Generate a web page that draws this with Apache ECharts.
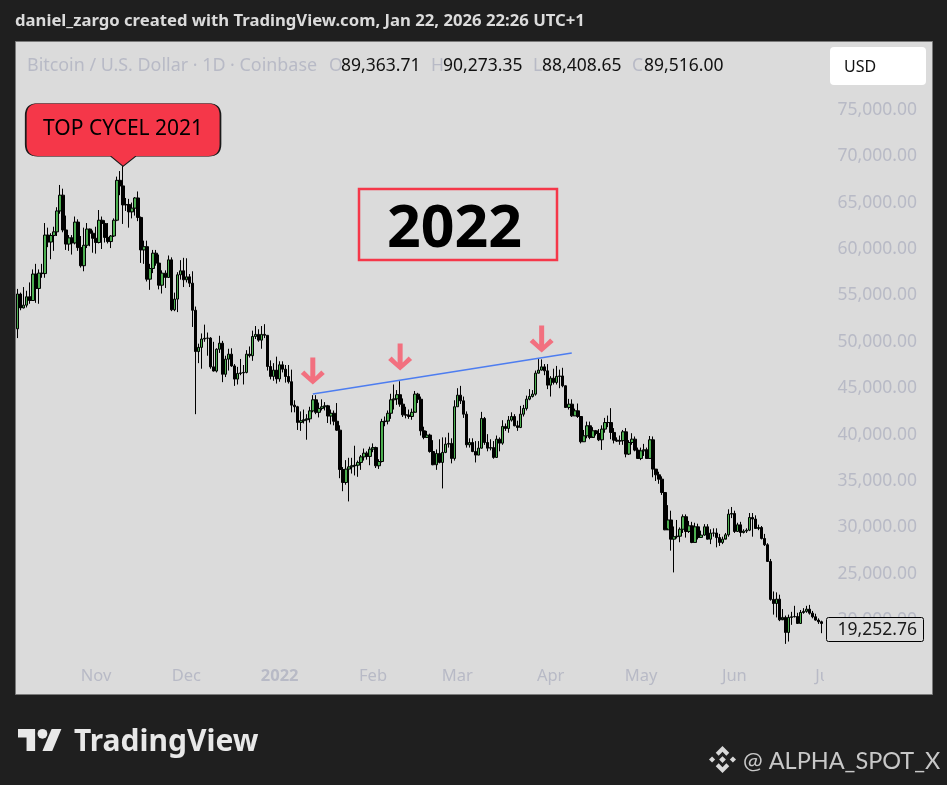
<!DOCTYPE html>
<html>
<head>
<meta charset="utf-8">
<style>html,body{margin:0;padding:0;background:#1f1f1f}#c{width:947px;height:785px}</style>
<script src="https://cdn.jsdelivr.net/npm/echarts@6/dist/echarts.min.js"></script>
</head>
<body>
<div id="c"></div>
<script>
const startDate = Date.UTC(2021, 9, 5);
const bandCount = 270;
const tickIndices = [27, 57, 88, 119, 147, 178, 208, 239, 269];
const tickLabels = ['Nov', 'Dec', '2022', 'Feb', 'Mar', 'Apr', 'May', 'Jun', 'Jul'];

const opens = [
49250,51400,55150,53650,53950,54850,54450,57300,55750,57400,
57350,61500,60750,61450,61850,64100,65800,62050,60530,61200,
60650,62900,60150,58200,60400,62150,61700,61150,60700,63100,
62750,61250,60800,61400,63100,67400,66800,64750,64800,64000,
64400,65500,63400,59900,60250,56750,57900,59550,58480,56100,
57400,56930,58830,53450,54600,57220,57650,56680,57000,56320,
53400,48950,49400,50300,50380,50400,47300,46850,49200,49850,
46500,48130,48670,47400,45980,46590,46650,46700,48670,48500,
50570,50800,50180,50800,50700,47340,46270,46950,46000,47520,
47050,46260,45700,43175,43000,41310,41500,41600,41700,42560,
43750,42400,42820,43000,43100,42000,42300,41440,40480,36240,
34840,36280,36530,36650,36700,37000,37600,38000,37650,38430,
38600,36640,37100,41400,41450,42300,43750,43850,44300,43280,
42130,42100,41950,42400,44360,43810,40410,39700,39950,38180,
36750,37970,37000,38080,38970,39050,37430,43000,44250,43640,
42200,38900,39150,38180,37790,38540,41740,39150,38540,38600,
37540,39510,39080,40880,40660,41560,41950,40950,40770,42200,
42820,43820,44110,44360,46620,46950,47300,46870,45330,46080,
45620,46270,46320,45260,42920,43280,42020,42560,41950,39230,
39870,40950,39690,40410,40120,39440,40590,41300,41300,40230,
39400,39300,39350,40300,37900,39150,39510,38330,37430,38250,
38360,37430,39440,36280,35670,35200,33760,29740,30800,28730,
29000,29050,29800,31150,29560,30170,28380,30060,28920,29170,
30065,28730,29380,29400,28900,28380,28730,29200,31430,31500,
29560,30280,29450,29600,29700,31070,30900,29880,29990,28810,
28130,26330,22240,21800,22270,20040,20300,18680,20300,20370,
20400,19650,20830,20950,21190,20760,20370,20010,19830
];
const closes = [
51400,55150,53650,53950,54850,54450,57300,55750,57400,57350,
61500,60750,61450,61850,64100,65800,62050,60530,61200,60650,
62900,60150,58200,60400,62150,61700,61150,60700,63100,62750,
61250,60800,61400,63100,67400,66800,64750,64800,64000,64400,
65500,63400,59900,60250,56750,57900,59550,58480,56100,57400,
56930,58830,53450,54600,57220,57650,56680,57000,56320,53400,
48950,49400,50300,50380,50400,47300,46850,49200,49850,46500,
48130,48670,47400,45980,46590,46650,46700,48670,48500,50570,
50800,50180,50800,50700,47340,46270,46950,46000,47520,47050,
46260,45700,43175,43000,41310,41500,41600,41700,42560,43750,
42400,42820,43000,43100,42000,42300,41440,40480,36240,34840,
36280,36530,36650,36700,37000,37600,38000,37650,38430,38600,
36640,37100,41400,41450,42300,43750,43850,44300,43280,42130,
42100,41950,42400,44360,43810,40410,39700,39950,38180,36750,
37970,37000,38080,38970,39050,37430,43000,44250,43640,42200,
38900,39150,38180,37790,38540,41740,39150,38540,38600,37540,
39510,39080,40880,40660,41560,41950,40950,40770,42200,42820,
43820,44110,44360,46620,46950,47300,46870,45330,46080,45620,
46270,46320,45260,42920,43280,42020,42560,41950,39230,39870,
40950,39690,40410,40120,39440,40590,41300,41300,40230,39400,
39300,39350,40300,37900,39150,39510,38330,37430,38250,38360,
37430,39440,36280,35670,35200,33760,29740,30800,28730,29000,
29050,29800,31150,29560,30170,28380,30060,28920,29170,30065,
28730,29380,29400,28900,28380,28730,29200,31430,31500,29560,
30280,29450,29600,29700,31070,30900,29880,29990,28810,28130,
26330,22240,21800,22270,20040,20300,18680,20300,20370,20400,
19650,20830,20950,21190,20760,20370,20010,19830,19650
];
const highs = [
51900,55700,55300,55900,55500,56400,57800,58400,57800,58400,
62800,62300,61700,62400,64500,66900,66500,63600,61500,61500,
63500,63200,61400,62300,62800,62200,62000,62400,64200,63500,
63100,62800,61500,63300,67800,68400,69000,65500,65400,65000,
65600,66200,63500,60900,60900,58400,59900,59900,59400,57700,
57700,59300,59100,55300,57500,58800,59050,59000,57300,57600,
53800,49800,50900,51850,51000,50500,50000,49300,50650,50100,
48500,49250,49300,47600,47300,48150,47500,49100,49500,51200,
51700,51350,51700,51900,50700,48000,47700,48400,47900,47900,
47500,47500,47000,43700,43100,42500,42700,42200,43000,44250,
44250,43450,43800,43500,43200,42700,42600,43400,41000,36500,
37250,37500,37500,38800,37200,37800,38500,38200,38700,39050,
38700,37350,41700,41950,42600,44400,45400,44800,45750,43900,
43000,42700,42800,44700,44500,44100,40850,40400,40100,39400,
38400,39500,39700,39700,40200,39600,43700,45000,45250,44100,
42500,39600,39600,39300,39300,42450,41900,40050,39500,39300,
39900,39700,41550,41200,42000,42400,42200,41500,43100,43200,
44200,44900,44800,46900,48130,48100,47600,47600,46300,47100,
47400,47000,47200,45300,43850,43800,42800,43350,42000,40500,
41400,41400,40800,40500,40600,41000,41800,42050,42850,40700,
39700,39900,40500,40700,39400,40150,39800,38600,38600,39000,
38600,39850,39800,36300,36000,35500,33800,32400,31800,30100,
30800,30000,31400,31400,30700,30600,30500,30400,29650,30350,
30350,29800,29900,29900,29300,29000,29400,31950,32200,31800,
30500,30600,29800,29900,31550,31550,31300,30300,30150,29300,
28300,26600,23100,23000,22750,21200,20500,20600,20900,21550,
20800,21100,21300,21550,21650,21000,20700,20200,19950
];
const lows = [
49050,50400,53400,53600,53700,54100,54500,54200,54100,56900,
56900,60200,58900,59800,61400,63800,61800,59900,59800,59400,
60500,59800,58000,57600,60100,60300,59600,59500,60600,60000,
60700,60600,60100,61300,63000,65800,62700,64100,62300,63300,
63600,63000,58500,58400,56500,55600,57400,58200,55650,55200,
55800,56900,53300,53300,53200,56700,55900,56400,55900,51600,
42200,47700,47100,50000,48500,47100,46800,46700,48800,45650,
46200,46900,47300,45250,45400,46400,45400,46600,48300,47950,
50300,50000,49250,50400,46900,45950,45800,45500,45700,46700,
45600,45500,42400,42400,40500,40400,41200,39450,41300,42400,
42200,41850,42600,42600,41250,41100,41000,40400,35300,33900,
34600,32800,35800,35600,35450,36200,37200,37300,36700,38100,
36400,36300,37000,40900,41100,41700,42700,43200,43000,41900,
41750,41700,41600,42500,43400,39900,39500,39650,38050,36700,
36200,36900,34200,38000,38600,36900,37200,43000,43300,41800,
38600,38600,38100,37000,37800,38500,38900,38200,38300,37400,
37500,38200,38900,40400,40200,41400,40900,40400,40700,41950,
42600,43700,44000,44200,46600,46900,46400,44900,44100,45400,
45400,45000,45100,42900,42700,41900,42000,41800,39050,39200,
39600,39500,39800,39900,39300,38350,40200,40800,39500,39050,
39200,38900,38900,37550,37800,38900,38200,37400,37250,37700,
37400,37400,35400,35000,34700,33500,29700,29900,27500,25150,
28800,28400,29400,28900,29400,28300,28400,28700,28900,29100,
28700,28200,29000,27850,28000,28200,28800,29000,31000,29400,
29500,29000,29350,29400,29600,29000,29850,29700,28700,28000,
26300,22100,20600,20300,19900,20200,17450,17700,19500,20300,
19600,19600,20700,20800,20600,20200,19950,19600,18600
];
const lastPriceLabel = '19,252.76';
const topCallout = { index: 36, price: 68900, text: 'TOP CYCEL 2021' };
const arrowIndices = [99, 128, 175];
const arrowPrices = [46860, 48370, 50300];
const trendIndices = [99, 185];
const trendPrices = [44370, 48790];

const categories = Array.from({ length: bandCount }, (_, i) =>
  new Date(startDate + i * 86400000).toISOString().slice(0, 10));
const ohlc = closes.map((c, i) => [opens[i], c, lows[i], highs[i]]);

const FONT = '"Noto Sans", sans-serif';
const MUTED = '#b8bac6';
const PANEL = '#dbdbdb';
const PAGE = '#1f1f1f';

const arrowPath = 'path://M9.5 0H14.5V19L20.5 13L24 16.5L12 27L0 16.5L3.5 13L9.5 19Z';
const bubblePath = 'path://M12 0H182.7Q194.7 0 194.7 12V40.7Q194.7 52.7 182.7 52.7H110L97.3 62.7L85 52.7H12Q0 52.7 0 40.7V12Q0 0 12 0Z';

function txt(text, x, y, size, fill, extra) {
  return { type: 'text', z: 50, silent: true, style: Object.assign({
    text, x, y, fill, font: size + 'px ' + FONT, textVerticalAlign: 'middle'
  }, extra || {}) };
}
function poly(points, dx, dy, s, fill) {
  return { type: 'polygon', z: 50, silent: true,
    shape: { points: points.map(p => [dx + p[0] * s, dy + p[1] * s]) }, style: { fill } };
}

const logoS = 44 / 36, logoX = 18, logoY = 724;
const binS = 27 / 28, binX = 709, binY = 746;
const logoFill = '#e8e8e8', binFill = '#d8d8d8';

const chart = echarts.init(document.getElementById('c'), null, { renderer: 'canvas' });
chart.setOption({
  animation: false,
  backgroundColor: PAGE,
  grid: { left: 13.2, top: 63.4, width: 813, height: 603.2, containLabel: false },
  xAxis: {
    type: 'category', data: categories, boundaryGap: true,
    axisLine: { show: false }, axisTick: { show: false }, splitLine: { show: false },
    axisLabel: {
      margin: 1.5, color: MUTED, fontFamily: FONT, fontSize: 16.5, showMinLabel: true, showMaxLabel: true,
      interval: (i) => tickIndices.includes(i),
      formatter: (v, i) => {
        const t = tickLabels[tickIndices.indexOf(i)] || '';
        return t === '2022' ? '{y|2022}' : t;
      },
      rich: { y: { fontWeight: 'bold', fontSize: 16.5, color: MUTED, fontFamily: FONT } }
    }
  },
  yAxis: {
    type: 'value', position: 'right', min: 15000, max: 80000, interval: 5000, scale: false,
    axisLine: { show: false }, axisTick: { show: false }, splitLine: { show: false },
    axisLabel: {
      margin: 90.8, align: 'right', color: MUTED, fontFamily: FONT, fontSize: 17.5, padding: [2, 0, 0, 0],
      showMinLabel: false, showMaxLabel: false,
      formatter: (v) => v.toLocaleString('en-US', { minimumFractionDigits: 2, maximumFractionDigits: 2 })
    }
  },
  series: [{
    type: 'candlestick', data: ohlc, barWidth: 3, clip: true,
    itemStyle: { color: '#4caf50', color0: '#000000', borderColor: '#000000', borderColor0: '#000000', borderWidth: 1 },
    markLine: {
      silent: true, symbol: 'none', label: { show: false },
      lineStyle: { color: '#4d7df0', width: 1.4, type: 'solid' },
      data: [[
        { coord: [trendIndices[0], trendPrices[0]] },
        { coord: [trendIndices[1], trendPrices[1]] }
      ]]
    },
    markPoint: {
      silent: true, label: { show: false },
      data: arrowIndices.map((idx, k) => ({
        coord: [idx, arrowPrices[k]], symbol: arrowPath, symbolSize: [24, 27],
        itemStyle: { color: '#f2707f' }, label: { show: false }
      })).concat([{
        coord: [topCallout.index, topCallout.price], symbol: bubblePath, symbolSize: [194.7, 62.7],
        symbolOffset: [0, -31.5],
        itemStyle: { color: '#f53749', borderColor: '#1a1a1a', borderWidth: 1 },
        label: { show: true, position: 'inside', offset: [0, -6], formatter: topCallout.text,
          color: '#000', fontFamily: FONT, fontSize: 21 }
      }])
    }
  }],
  graphic: [
    { type: 'rect', z: -10, silent: true, shape: { x: 15.5, y: 41.5, width: 917, height: 653 },
      style: { fill: PANEL, stroke: '#7a7a7a', lineWidth: 1 } },
    { type: 'rect', z: 40, silent: true, shape: { x: 0, y: 42, width: 15, height: 652 }, style: { fill: PAGE } },
    { type: 'rect', z: 41, silent: true, shape: { x: 15, y: 42, width: 1, height: 652 }, style: { fill: '#7a7a7a' } },
    { type: 'rect', z: 40, silent: true, shape: { x: 824, y: 664, width: 20, height: 28 }, style: { fill: PANEL } },
    txt('daniel_zargo created with TradingView.com, Jan 22, 2026 22:26 UTC+1', 15, 21, 16.7, '#dbdbdb', { font: 'bold 16.7px ' + FONT }),
    txt('Bitcoin / U.S. Dollar · 1D · Coinbase', 27, 66, 17.9, MUTED),
    txt('O', 329, 66, 17.5, MUTED), txt('89,363.71', 341, 66, 17.5, '#111'),
    txt('H', 431, 66, 17.5, MUTED), txt('90,273.35', 443, 66, 17.5, '#111'),
    txt('L', 533, 66, 17.5, MUTED), txt('88,408.65', 542, 66, 17.5, '#111'),
    txt('C', 632, 66, 17.5, MUTED), txt('89,516.00', 644, 66, 17.5, '#111'),
    { type: 'rect', z: 45, silent: true, shape: { x: 830, y: 47, width: 96, height: 38, r: 4 }, style: { fill: '#ffffff' } },
    txt('USD', 844, 67, 16, '#111'),
    { type: 'rect', z: 45, silent: true, shape: { x: 359, y: 189, width: 198, height: 71 }, style: { fill: 'none', stroke: '#f53749', lineWidth: 2.5 } },
    txt('2022', 454.5, 230, 59, '#000', { font: 'bold 59px ' + FONT, textAlign: 'center' }),
    { type: 'rect', z: 45, silent: true, shape: { x: 826.5, y: 617.5, width: 97, height: 24, r: 2 }, style: { fill: PANEL, stroke: '#000', lineWidth: 1 } },
    txt(lastPriceLabel, 917, 630, 17.5, '#1a1a1a', { textAlign: 'right' }),
    poly([[0,4],[14,4],[14,22],[7,22],[7,11],[0,11]], logoX, logoY, logoS, logoFill),
    poly([[27.5,4],[35.5,4],[28,22],[20,22]], logoX, logoY, logoS, logoFill),
    { type: 'circle', z: 50, silent: true, shape: { cx: logoX + 20 * logoS, cy: logoY + 8 * logoS, r: 4 * logoS }, style: { fill: logoFill } },
    txt('TradingView', 74, 742, 30, '#e8e8e8', { font: 'bold 30px ' + FONT }),
    poly([[14,0],[21,7],[18,10],[14,6],[10,10],[7,7]], binX, binY, binS, binFill),
    poly([[14,28],[21,21],[18,18],[14,22],[10,18],[7,21]], binX, binY, binS, binFill),
    poly([[0,14],[3.2,10.8],[6.4,14],[3.2,17.2]], binX, binY, binS, binFill),
    poly([[28,14],[24.8,10.8],[21.6,14],[24.8,17.2]], binX, binY, binS, binFill),
    poly([[14,10.5],[17.5,14],[14,17.5],[10.5,14]], binX, binY, binS, binFill),
    txt('@ ALPHA_SPOT_X', 743, 761, 23.5, '#c8c8c8', { font: '23.5px Lato, ' + FONT })
  ]
});
</script>
</body>
</html>
